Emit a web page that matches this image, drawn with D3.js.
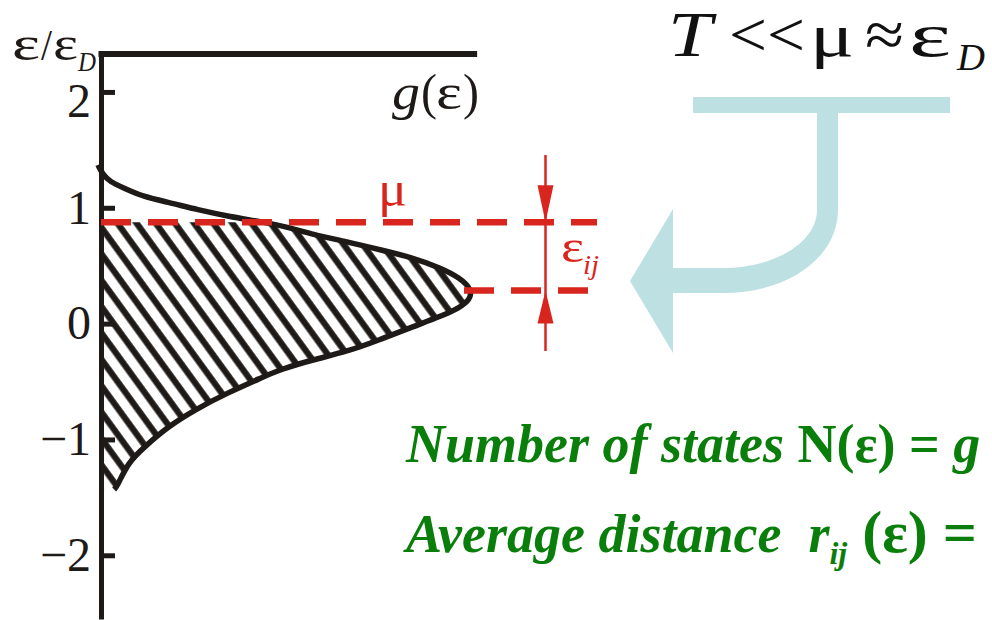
<!DOCTYPE html>
<html>
<head>
<meta charset="utf-8">
<script src="https://cdn.jsdelivr.net/npm/d3@7"></script>
<style>
  html, body { margin: 0; padding: 0; background: #ffffff; }
  svg { display: block; }
  text { font-family: "Liberation Serif", "Times New Roman", serif; white-space: pre; }
</style>
</head>
<body>
<svg id="chart" width="992" height="620"></svg>
<script>
// Energy axis ticks (in units of eps_D)
const epsTicks = [-2, -1, 0, 1, 2];

// Density of states g(eps): energy samples and matching density values
const dosEnergy = [1.37, 1.29, 1.225, 1.173, 1.096, 1.044, 0.984, 0.923, 0.876, 0.828,
  0.768, 0.707, 0.638, 0.569, 0.483, 0.397, 0.293, 0.207, 0.138, 0.060,
  -0.026, -0.138, -0.242, -0.311, -0.397, -0.466, -0.595, -0.742, -0.889, -1.061,
  -1.199, -1.406, -1.432];
const dosDensity = [-0.008, 0.004, 0.024, 0.059, 0.112, 0.184, 0.256, 0.344, 0.435, 0.504,
  0.565, 0.656, 0.744, 0.832, 0.904, 0.957, 0.989, 0.984, 0.957, 0.904,
  0.832, 0.744, 0.656, 0.565, 0.477, 0.429, 0.339, 0.251, 0.179, 0.117,
  0.072, 0.043, 0.035];

// Chemical potential and the level below it that bounds eps_ij
const muLevel = 0.876;
const lowerLevel = 0.285;

const INK = "#1e1a18";
const RED = "#d8261f";
const GREEN = "#0a7e0a";
const TEAL = "#bde0e3";

const svg = d3.select("#chart");

const y = d3.scaleLinear().domain([-2.55, 2.35]).range([619, 51.4]);
const x = d3.scaleLinear().domain([0, 1]).range([101, 476]);

const dos = dosEnergy.map((e, i) => ({ e, g: dosDensity[i] }));

// Places one glyph group, squeezed or stretched to a set advance width
function glyphs(parent, str, px, py, size, width, opts = {}) {
  const t = parent.append("text")
    .attr("x", px).attr("y", py)
    .style("font-size", size + "px")
    .attr("fill", opts.fill || INK)
    .text(str);
  if (width) t.attr("textLength", width).attr("lengthAdjust", "spacingAndGlyphs");
  if (opts.italic) t.attr("font-style", "italic");
  if (opts.bold) t.attr("font-weight", "bold");
  return t;
}

// Hatch pattern for the occupied states
const defs = svg.append("defs");
const pat = defs.append("pattern")
  .attr("id", "hatch")
  .attr("patternUnits", "userSpaceOnUse")
  .attr("width", 15.5).attr("height", 15.5)
  .attr("patternTransform", "rotate(-36)");
pat.append("rect").attr("x", 7.2).attr("y", 0)
  .attr("width", 6.2).attr("height", 15.5).attr("fill", INK);

defs.append("clipPath").attr("id", "belowMu")
  .append("rect")
  .attr("x", x(0)).attr("y", y(muLevel))
  .attr("width", x(1.1) - x(0)).attr("height", y(-2.55) - y(muLevel));

const curveLine = d3.line()
  .x(d => x(d.g)).y(d => y(d.e))
  .curve(d3.curveBasis);

const last = dos[dos.length - 1];
const regionPath = curveLine(dos) + `L${x(0)},${y(last.e)}L${x(0)},${y(dos[0].e)}Z`;

svg.append("path")
  .attr("d", regionPath)
  .attr("fill", "url(#hatch)")
  .attr("clip-path", "url(#belowMu)");

// g(eps) curve
svg.append("path")
  .attr("d", curveLine(dos))
  .attr("fill", "none")
  .attr("stroke", INK)
  .attr("stroke-width", 5.5);

// Energy axis
const yAxis = d3.axisLeft(y)
  .tickValues(epsTicks)
  .tickFormat(d3.format("d"))
  .tickSizeInner(-14)
  .tickSizeOuter(0)
  .tickPadding(10);

const ga = svg.append("g")
  .attr("transform", `translate(${x(0)},0)`)
  .call(yAxis);
ga.select(".domain").attr("stroke", INK).attr("stroke-width", 5);
ga.selectAll(".tick line").attr("stroke", INK).attr("stroke-width", 5);
ga.selectAll(".tick text")
  .attr("fill", INK)
  .style("font-family", "'Liberation Serif', serif")
  .style("font-size", "48px")
  .attr("dy", d => d === 2 ? "0.52em" : "0.32em");

// Density axis along the top
const xAxis = d3.axisTop(x).tickValues([]).tickSizeOuter(0);
const gx = svg.append("g")
  .attr("transform", `translate(0,${y(2.35) + 2.6})`)
  .call(xAxis);
gx.select(".domain").attr("stroke", INK).attr("stroke-width", 6)
  .attr("d", `M${x(0) - 2.5},0H${x(1.003)}`);

// Axis titles
glyphs(svg, "ε", 12, 60, 48, 28);
glyphs(svg, "/", 41, 60, 44, 11);
glyphs(svg, "ε", 53, 60, 48, 25);
glyphs(svg, "D", 78, 71, 28, 18, { italic: true });

glyphs(svg, "g", 392, 109, 50, 28, { italic: true });
glyphs(svg, "(", 421, 109, 50, 16);
glyphs(svg, "ε", 436, 109, 50, 26);
glyphs(svg, ")", 463, 109, 50, 16);

// Red level markers
const dash = "30 17";
svg.append("line")
  .attr("x1", x(0)).attr("x2", 597)
  .attr("y1", y(muLevel)).attr("y2", y(muLevel))
  .attr("stroke", RED).attr("stroke-width", 6.5)
  .attr("stroke-dasharray", dash);
svg.append("line")
  .attr("x1", 464).attr("x2", 588)
  .attr("y1", y(lowerLevel)).attr("y2", y(lowerLevel))
  .attr("stroke", RED).attr("stroke-width", 6.5)
  .attr("stroke-dasharray", dash);

glyphs(svg, "μ", 378, 206, 50, 29, { fill: RED });

// Energy gap bracket between the two levels
const bx = 545.5;
svg.append("line")
  .attr("x1", bx).attr("x2", bx)
  .attr("y1", 155).attr("y2", 351)
  .attr("stroke", RED).attr("stroke-width", 2.5);
const tipTop = y(muLevel), tipBot = y(lowerLevel);
svg.append("path")
  .attr("d", `M${bx},${tipTop}L${bx - 8},${tipTop - 37}L${bx + 8},${tipTop - 37}Z`)
  .attr("fill", RED);
svg.append("path")
  .attr("d", `M${bx},${tipBot}L${bx - 8},${tipBot + 33}L${bx + 8},${tipBot + 33}Z`)
  .attr("fill", RED);

glyphs(svg, "ε", 561, 262, 46, 23, { fill: RED });
glyphs(svg, "ij", 583, 274, 28, 16, { fill: RED, italic: true });

// Condition in the upper right
glyphs(svg, "T", 668, 56, 64, 44, { italic: true, fill: "#111" });
glyphs(svg, "<<", 729, 56, 64, 76, { fill: "#111" });
glyphs(svg, "μ", 810, 56, 62, 44, { fill: "#111" });
glyphs(svg, "≈", 865, 56, 64, 39, { fill: "#111" });
glyphs(svg, "ε", 909, 56, 62, 42, { fill: "#111" });
glyphs(svg, "D", 957, 70, 38, 28, { italic: true, fill: "#111" });

// Turning arrow pointing back to the chart
svg.append("rect").attr("x", 693).attr("y", 97)
  .attr("width", 257).attr("height", 16).attr("fill", TEAL);
svg.append("path")
  .attr("d", "M817,112 L838,112 L838,210 C838,256 790,293 723,293 L673,293 L673,353 L630,281 L673,209 L673,268 L723,268 C775,268 817,242 817,210 Z")
  .attr("fill", TEAL);

// Green formula lines
const l1 = svg.append("text").attr("x", 406).attr("y", 462)
  .attr("fill", GREEN).attr("font-weight", "bold").style("font-size", "54px");
l1.append("tspan").attr("font-style", "italic").text("Number of states ");
l1.append("tspan").text("N(ε) = ");
l1.append("tspan").attr("font-style", "italic").text("g");

const l2 = svg.append("text").attr("x", 406).attr("y", 552)
  .attr("fill", GREEN).attr("font-weight", "bold").style("font-size", "54px");
l2.append("tspan").attr("font-style", "italic").text("Average distance  r");
l2.append("tspan").attr("font-style", "italic").attr("font-size", "32px")
  .attr("dy", 12).text("ij");
l2.append("tspan").attr("dy", -12).attr("font-size", "60px").text(" (ε) =");
</script>
</body>
</html>
